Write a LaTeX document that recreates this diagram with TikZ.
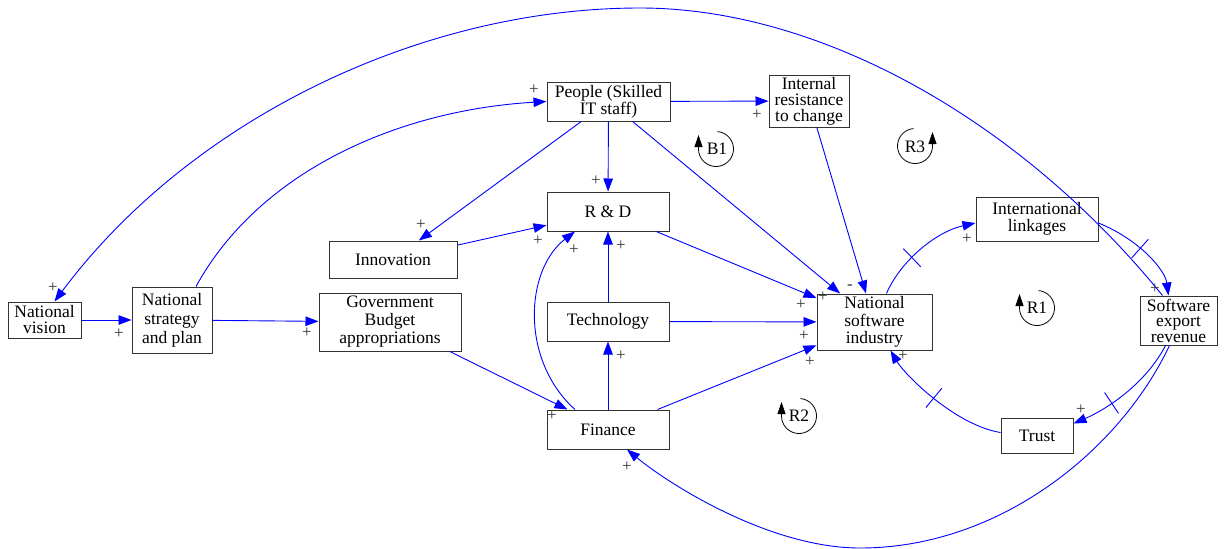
\documentclass[tikz,border=0pt]{standalone}
\usepackage{fontspec}
\setmainfont{Liberation Serif}
\usetikzlibrary{arrows.meta}
\begin{document}
\begin{tikzpicture}[x=1pt,y=-1pt,
  box/.style={draw=black!80, line width=1pt, fill=white, align=center, inner sep=1pt, font=\fontsize{17.5}{17}\selectfont},
  lnk/.style={draw=blue, line width=0.9pt, -{Triangle[length=13pt,width=9.5pt]}},
  sgn/.style={font=\fontsize{17}{17}\selectfont, text=black!80, inner sep=0pt},
  dly/.style={sloped, draw=blue, line width=0.9pt, minimum width=0pt, minimum height=25pt, inner sep=0pt, outer sep=0pt},
  loopc/.style={draw=black, line width=0.8pt, -{Triangle[length=12pt,width=8pt]}},
  looplbl/.style={font=\fontsize{17.5}{17}\selectfont, inner sep=0pt}
]
\useasboundingbox (0,0) rectangle (1224,549);

% nodes
\node[box, minimum width=73pt, minimum height=36pt, font=\fontsize{17.5}{16}\selectfont] (nv) at (44.5,320) {National\\vision};
\node[box, minimum width=80pt, minimum height=66pt, font=\fontsize{17.5}{19}\selectfont] (ns) at (172,320) {National\\strategy\\and plan};
\node[box, minimum width=142pt, minimum height=58pt, font=\fontsize{17.5}{18}\selectfont] (gb) at (390,322) {Government\\Budget\\appropriations};
\node[box, minimum width=128pt, minimum height=37pt] (inn) at (393,259.5) {Innovation};
\node[box, minimum width=122pt, minimum height=39pt] (rd) at (608,211.5) {R \& D};
\node[box, minimum width=122pt, minimum height=39pt] (tech) at (608,321.5) {Technology};
\node[box, minimum width=122pt, minimum height=39pt] (fin) at (608,429.5) {Finance};
\node[box, minimum width=123pt, minimum height=39pt] (ppl) at (608.5,101.5) {People (Skilled\\IT staff)};
\node[box, minimum width=80pt, minimum height=52pt, font=\fontsize{17.5}{16}\selectfont] (irc) at (809,101) {Internal\\resistance\\to change};
\node[box, minimum width=115pt, minimum height=56pt, font=\fontsize{17.5}{17.5}\selectfont] (nsi) at (874.5,322) {National\\software\\industry};
\node[box, minimum width=122pt, minimum height=44pt] (il) at (1037,219) {International\\linkages};
\node[box, minimum width=77pt, minimum height=49pt, font=\fontsize{17.5}{15.5}\selectfont] (ser) at (1178.5,320.5) {Software\\export\\revenue};
\node[box, minimum width=72pt, minimum height=35pt] (trust) at (1037,435.5) {Trust};

% straight links
\draw[lnk] (nv) -- (ns);
\draw[lnk] (ns) -- (gb);
\draw[lnk] (ppl) -- (irc);
\draw[lnk] (ppl) -- (rd);
\draw[lnk] (ppl) -- (inn);
\draw[lnk] (ppl) -- (nsi);
\draw[lnk] (inn) -- (rd);
\draw[lnk] (rd) -- (nsi);
\draw[lnk] (tech) -- (rd);
\draw[lnk] (tech) -- (nsi);
\draw[lnk] (fin) -- (tech);
\draw[lnk] (gb) -- (fin);
\draw[lnk] (fin) -- (nsi);
\draw[lnk] (irc) -- (nsi);

% curved links
\draw[lnk] ([xshift=24pt]ns.north) .. controls (260,170) and (400,110) .. (ppl.west);
\draw[lnk] ([xshift=-33pt]fin.north) .. controls (520,360) and (525,270) .. ([xshift=-33pt]rd.south);
\draw[lnk] ([xshift=12pt]nsi.north) .. controls (900,262) and (935,232) .. node[dly,pos=0.4] (d1) {} ([yshift=-4pt]il.west);
\draw[lnk] ([yshift=-4pt]il.east) .. controls (1140,240) and (1165,270) .. node[dly,pos=0.4] (d2) {} ([xshift=-10pt]ser.north);
\draw[lnk] ([xshift=-13pt]ser.south) .. controls (1145,385) and (1105,410) .. node[dly,pos=0.62] (d3) {} ([yshift=12pt]trust.east);
\draw[lnk] ([yshift=3pt]trust.west) .. controls (955,425) and (905,375) .. node[dly,pos=0.5] (d4) {} ([xshift=16pt]nsi.south);
\draw[lnk] ([xshift=-9pt]ser.south) .. controls (1120,450) and (1000,548) .. (860,548) .. controls (770,548) and (670,485) .. ([xshift=19pt]fin.south);
\draw[lnk] ([xshift=-16pt]ser.north) .. controls (1020,120) and (820,8) .. (640,8) .. controls (420,8) and (190,120) .. ([xshift=10pt]nv.north);

% signs
\node[sgn] (s1) at (53,288) {+};
\node[sgn] (s2) at (119,334) {+};
\node[sgn] (s3) at (307,333) {+};
\node[sgn] (s4) at (534,90) {+};
\node[sgn] (s5) at (757,115) {+};
\node[sgn] (s6) at (596,181) {+};
\node[sgn] (s7) at (421,225) {+};
\node[sgn] (s8) at (538,241) {+};
\node[sgn] (s9) at (574,250) {+};
\node[sgn] (s10) at (621,246) {+};
\node[sgn] (s11) at (621,356) {+};
\node[sgn] (s12) at (552,416) {+};
\node[sgn] (s13) at (627,467) {+};
\node[sgn] (s14) at (823,297) {+};
\node[sgn] (s15) at (850,287) {-};
\node[sgn] (s16) at (801,305) {+};
\node[sgn] (s17) at (804,336) {+};
\node[sgn] (s18) at (810,362) {+};
\node[sgn] (s19) at (903,356) {+};
\node[sgn] (s20) at (967,239) {+};
\node[sgn] (s21) at (1155,289) {+};
\node[sgn] (s22) at (1081,410) {+};

% loop markers
\node[looplbl] (b1) at (717,149) {B1};
\draw[loopc] (716,149) ++(275:17.5) arc[start angle=275, end angle=540, radius=17.5] -- ++(0,-14);
\node[looplbl] (r3) at (915,147) {R3};
\draw[loopc] (915,146) ++(265:17.5) arc[start angle=265, end angle=0, radius=17.5] -- ++(0,-14);
\node[looplbl] (r1) at (1037,308) {R1};
\draw[loopc] (1037,308) ++(275:17.5) arc[start angle=275, end angle=540, radius=17.5] -- ++(0,-14);
\node[looplbl] (r2) at (799,416) {R2};
\draw[loopc] (799,416) ++(275:17.5) arc[start angle=275, end angle=540, radius=17.5] -- ++(0,-14);
\end{tikzpicture}
\end{document}
